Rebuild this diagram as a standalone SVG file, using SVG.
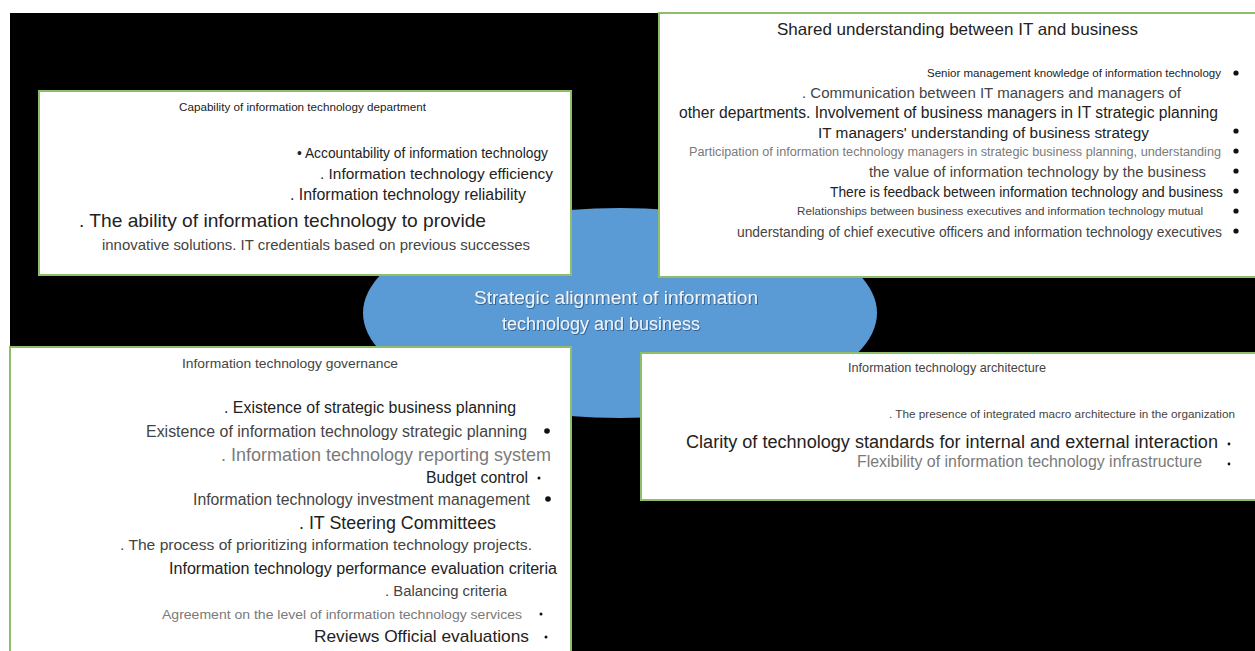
<svg xmlns="http://www.w3.org/2000/svg" width="1255" height="651" viewBox="0 0 1255 651">
  <style>
    text { font-family: "Liberation Sans", Arial, sans-serif; fill: #222; }
    .box { fill: #ffffff; stroke: #8dbf6a; stroke-width: 2; }
    .gray { fill: #7a7a7a; }
    .mid { fill: #444; }
    .hub { fill: #eef4fb; font-size: 18px; }
    .dot { fill: #111; }
  </style>
  <defs>
    <filter id="hubShadow" x="-10%" y="-30%" width="120%" height="160%">
      <feDropShadow dx="0.8" dy="0.8" stdDeviation="0.6" flood-color="#1c3f66" flood-opacity="0.8"/>
    </filter>
  </defs>

  <!-- page background -->
  <rect x="0" y="0" width="1255" height="651" fill="#ffffff"/>
  <rect x="10" y="13" width="1245" height="638" fill="#000000"/>

  <!-- central hub -->
  <g id="hub">
    <ellipse cx="620" cy="313" rx="257" ry="105" fill="#5b9bd5"/>
  </g>

  <!-- connectors: none drawn, the boxes sit directly on the hub -->
  <g id="connectors"></g>

  <!-- capability of IT department -->
  <g id="node-capability">
    <rect class="box" x="39" y="91" width="532" height="184"/>
    <text x="179" y="111" font-size="11" textLength="247" lengthAdjust="spacingAndGlyphs">Capability of information technology department</text>
    <text x="297" y="158" font-size="13.8" textLength="251" lengthAdjust="spacingAndGlyphs">• Accountability of information technology</text>
    <text x="320" y="179" font-size="15.2" textLength="233" lengthAdjust="spacingAndGlyphs">. Information technology efficiency</text>
    <text x="290" y="200" font-size="15.6" textLength="236" lengthAdjust="spacingAndGlyphs">. Information technology reliability</text>
    <text x="79" y="227" font-size="19" textLength="407" lengthAdjust="spacingAndGlyphs">. The ability of information technology to provide</text>
    <text class="mid" x="102" y="250" font-size="14.8" textLength="428" lengthAdjust="spacingAndGlyphs">innovative solutions. IT credentials based on previous successes</text>
  </g>

  <!-- shared understanding between IT and business -->
  <g id="node-shared">
    <rect class="box" x="659" y="13" width="600" height="264"/>
    <text x="777" y="35" font-size="16.5" textLength="361" lengthAdjust="spacingAndGlyphs">Shared understanding between IT and business</text>
    <text x="927" y="77" font-size="11.2" textLength="294" lengthAdjust="spacingAndGlyphs">Senior management knowledge of information technology</text>
    <circle class="dot" cx="1236" cy="73" r="2.6"/>
    <text class="mid" x="802" y="98" font-size="15" textLength="379" lengthAdjust="spacingAndGlyphs">. Communication between IT managers and managers of</text>
    <text x="679" y="118" font-size="15.6" textLength="539" lengthAdjust="spacingAndGlyphs">other departments. Involvement of business managers in IT strategic planning</text>
    <text x="818" y="138" font-size="15.2" textLength="331" lengthAdjust="spacingAndGlyphs">IT managers' understanding of business strategy</text>
    <circle class="dot" cx="1236" cy="131" r="2.6"/>
    <text class="gray" x="689" y="156" font-size="12.5" textLength="532" lengthAdjust="spacingAndGlyphs">Participation of information technology managers in strategic business planning, understanding</text>
    <circle class="dot" cx="1236" cy="151" r="2.6"/>
    <text class="mid" x="869" y="177" font-size="14.8" textLength="337" lengthAdjust="spacingAndGlyphs">the value of information technology by the business</text>
    <circle class="dot" cx="1236" cy="171" r="2.6"/>
    <text x="830" y="197" font-size="13.8" textLength="393" lengthAdjust="spacingAndGlyphs">There is feedback between information technology and business</text>
    <circle class="dot" cx="1236" cy="191" r="2.6"/>
    <text class="mid" x="797" y="215" font-size="11.5" textLength="406" lengthAdjust="spacingAndGlyphs">Relationships between business executives and information technology mutual</text>
    <circle class="dot" cx="1236" cy="211" r="2.6"/>
    <text class="mid" x="737" y="237" font-size="13.8" textLength="485" lengthAdjust="spacingAndGlyphs">understanding of chief executive officers and information technology executives</text>
    <circle class="dot" cx="1236" cy="231" r="2.6"/>
  </g>

  <!-- hub label -->
  <g id="hub-label" filter="url(#hubShadow)">
    <text class="hub" x="474" y="304" textLength="284" lengthAdjust="spacingAndGlyphs">Strategic alignment of information</text>
    <text class="hub" x="502" y="330" textLength="198" lengthAdjust="spacingAndGlyphs">technology and business</text>
  </g>

  <!-- IT governance -->
  <g id="node-governance">
    <rect class="box" x="10" y="347" width="561" height="310"/>
    <text class="mid" x="182" y="368" font-size="13" textLength="216" lengthAdjust="spacingAndGlyphs">Information technology governance</text>
    <text x="224" y="413" font-size="15.8" textLength="292" lengthAdjust="spacingAndGlyphs">. Existence of strategic business planning</text>
    <text class="mid" x="146" y="437" font-size="15.8" textLength="381" lengthAdjust="spacingAndGlyphs">Existence of information technology strategic planning</text>
    <circle class="dot" cx="547" cy="431" r="2.8"/>
    <text class="gray" x="221" y="461" font-size="17.8" textLength="330" lengthAdjust="spacingAndGlyphs">. Information technology reporting system</text>
    <text x="426" y="483" font-size="15.6" textLength="102" lengthAdjust="spacingAndGlyphs">Budget control</text>
    <circle class="dot" cx="539" cy="478" r="1.5"/>
    <text class="mid" x="193" y="505" font-size="15.6" textLength="337" lengthAdjust="spacingAndGlyphs">Information technology investment management</text>
    <circle class="dot" cx="548" cy="499" r="2.8"/>
    <text x="299" y="529" font-size="17.6" textLength="197" lengthAdjust="spacingAndGlyphs">. IT Steering Committees</text>
    <text class="mid" x="120" y="550" font-size="15.4" textLength="412" lengthAdjust="spacingAndGlyphs">. The process of prioritizing information technology projects.</text>
    <text x="169" y="574" font-size="15.8" textLength="388" lengthAdjust="spacingAndGlyphs">Information technology performance evaluation criteria</text>
    <text class="mid" x="385" y="596" font-size="14" textLength="122" lengthAdjust="spacingAndGlyphs">. Balancing criteria</text>
    <text class="gray" x="162" y="619" font-size="13.4" textLength="360" lengthAdjust="spacingAndGlyphs">Agreement on the level of information technology services</text>
    <circle class="dot" cx="541" cy="614" r="1.5"/>
    <text x="314" y="642" font-size="17" textLength="215" lengthAdjust="spacingAndGlyphs">Reviews Official evaluations</text>
    <circle class="dot" cx="546" cy="637" r="1.5"/>
  </g>

  <!-- IT architecture -->
  <g id="node-architecture">
    <rect class="box" x="641" y="353" width="620" height="147"/>
    <text class="mid" x="848" y="372" font-size="12.6" textLength="198" lengthAdjust="spacingAndGlyphs">Information technology architecture</text>
    <text class="mid" x="889" y="418" font-size="11.6" textLength="346" lengthAdjust="spacingAndGlyphs">. The presence of integrated macro architecture in the organization</text>
    <text x="686" y="448" font-size="18" textLength="532" lengthAdjust="spacingAndGlyphs">Clarity of technology standards for internal and external interaction</text>
    <circle class="dot" cx="1229" cy="444" r="1.4"/>
    <text class="gray" x="857" y="467" font-size="15.6" textLength="345" lengthAdjust="spacingAndGlyphs">Flexibility of information technology infrastructure</text>
    <circle class="dot" cx="1229" cy="464" r="1.4"/>
  </g>
</svg>
